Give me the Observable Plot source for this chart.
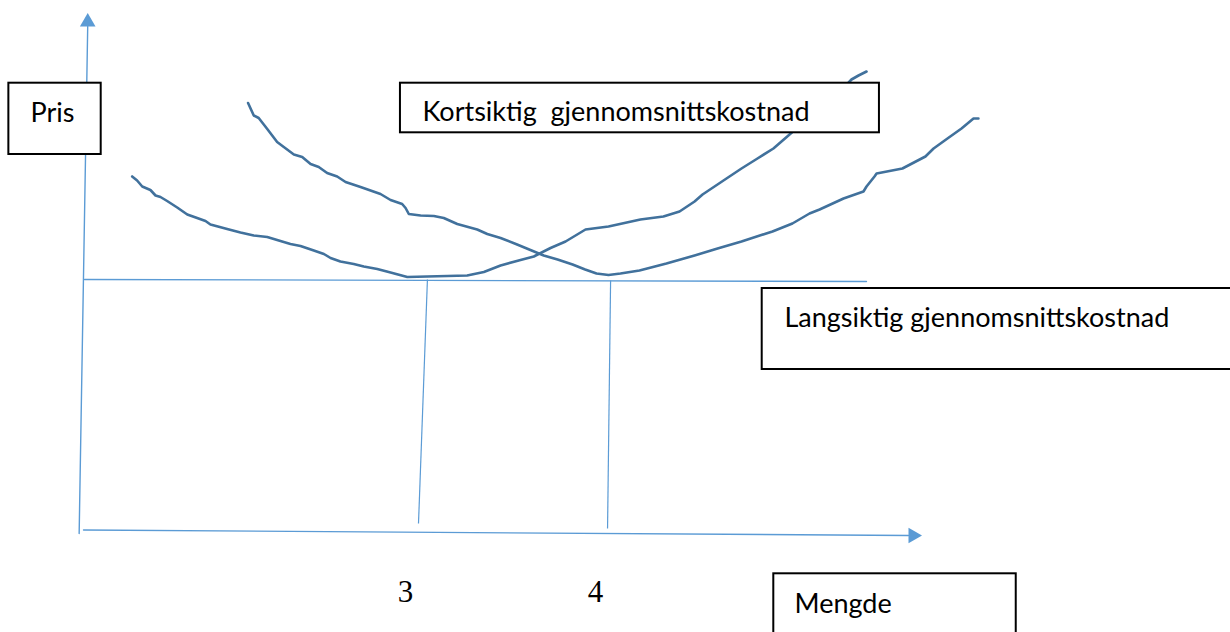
<!DOCTYPE html>
<html>
<head>
<meta charset="utf-8">
<script src="https://cdn.jsdelivr.net/npm/d3@7"></script>
<script src="https://cdn.jsdelivr.net/npm/@observablehq/plot@0.6"></script>
<style>
  html, body { margin: 0; padding: 0; background: #fff; }
  svg text { white-space: pre; }
</style>
</head>
<body>
<div id="chart"></div>
<script>
// ---- Data (Mengde on x, Pris on y) ----
// Left U-shaped average cost curve
const curve1Mengde = [1.493,1.519,1.546,1.589,1.616,1.642,1.677,1.730,1.783,1.835,1.879,1.905,1.993,2.063,2.133,2.204,2.256,2.326,2.379,2.449,2.502,2.537,2.589,2.659,2.712,2.783,2.853,2.941,3.046,3.151,3.256,3.344,3.432,3.537,3.607,3.695,3.774,3.879,4.000,4.168,4.289,4.374,4.453,4.495,4.621,4.700,4.784,4.868,4.953,5.037,5.116,5.200,5.279,5.316,5.358];
const curve1Pris   = [7.08,7.00,6.88,6.81,6.70,6.67,6.59,6.46,6.32,6.25,6.19,6.12,6.03,5.96,5.90,5.87,5.81,5.73,5.69,5.60,5.53,5.45,5.38,5.33,5.28,5.23,5.16,5.07,5.08,5.09,5.10,5.17,5.30,5.41,5.48,5.65,5.78,6.02,6.08,6.22,6.28,6.38,6.58,6.72,7.04,7.24,7.44,7.64,7.92,8.20,8.44,8.70,9.02,9.10,9.18];
// Right U-shaped average cost curve
const curve2Mengde = [2.103,2.133,2.159,2.204,2.256,2.291,2.344,2.388,2.432,2.475,2.519,2.572,2.616,2.695,2.800,2.853,2.914,2.932,2.949,3.011,3.081,3.133,3.204,3.309,3.362,3.432,3.519,3.589,3.659,3.732,3.811,3.877,3.937,4.000,4.063,4.163,4.305,4.453,4.574,4.700,4.863,4.968,5.058,5.111,5.237,5.342,5.358,5.400,5.411,5.547,5.668,5.711,5.784,5.858,5.921,5.947];
const curve2Pris   = [8.55,8.30,8.25,8.03,7.77,7.67,7.52,7.47,7.33,7.27,7.15,7.08,6.97,6.87,6.73,6.61,6.53,6.45,6.33,6.30,6.29,6.25,6.13,6.02,5.93,5.85,5.72,5.61,5.50,5.42,5.32,5.22,5.14,5.11,5.14,5.20,5.34,5.50,5.64,5.78,5.98,6.14,6.34,6.42,6.64,6.78,6.88,7.08,7.14,7.24,7.48,7.64,7.84,8.04,8.24,8.24];

// Axes (hand-drawn lines)
const yAxisMengde = [1.214, 1.259];
const yAxisPris   = [-0.06, 10.08];
const xAxisMengde = [1.237, 5.579];
const xAxisPris   = [0.01, -0.10];

// Long-run average cost (horizontal line)
const lacMengde = [1.242, 5.358];
const lacPris   = [5.02, 4.98];

// Drop lines to the quantities 3 and 4
const dropTopMengde    = [3.047, 4.011];
const dropTopPris      = [5.02, 5.00];
const dropBottomMengde = [3.000, 3.995];
const dropBottomPris   = [0.14, 0.04];

// Tick labels on the quantity axis
const tickValues = [3, 4];
const tickLabels = ["3", "4"];
const tickLabelPris = -1.42;

// Text boxes
const boxLabels = ["Pris", "Kortsiktig  gjennomsnittskostnad", "Langsiktig gjennomsnittskostnad", "Mengde"];
const boxMengde1 = [0.844, 2.905, 4.809, 4.870];
const boxMengde2 = [1.330, 5.426, 7.300, 6.146];
const boxPris1   = [8.946, 8.946, 4.84, -0.866];
const boxPris2   = [7.52, 7.954, 3.22, -2.40];
const labelMengde = [0.958, 3.021, 4.926, 4.979];
const labelPris   = [8.166, 8.186, 4.066, -1.646];

// ---- Build tables ----
const toPts = (xs, ys) => xs.map((x, i) => ({x, y: ys[i]}));
const curve1 = toPts(curve1Mengde, curve1Pris);
const curve2 = toPts(curve2Mengde, curve2Pris);
const yAxis = toPts(yAxisMengde, yAxisPris);
const xAxis = toPts(xAxisMengde, xAxisPris);
const lac = toPts(lacMengde, lacPris);
const drops = dropTopMengde.map((x, i) => ({x1: x, y1: dropTopPris[i], x2: dropBottomMengde[i], y2: dropBottomPris[i]}));
const boxes = boxLabels.map((t, i) => ({t, x1: boxMengde1[i], x2: boxMengde2[i], y1: boxPris1[i], y2: boxPris2[i], lx: labelMengde[i], ly: labelPris[i]}));
const ticks = tickValues.map((v, i) => ({v, label: tickLabels[i]}));

const axisColor = "#5B9BD5";
const curveColor = "#41719C";

const chart = Plot.plot({
  width: 1230,
  height: 632,
  x: {type: "linear", domain: [3, 4], range: [418, 608], axis: null},
  y: {type: "linear", domain: [0, 5], range: [530, 280], axis: null},
  style: {background: "#fff", fontFamily: "Lato, sans-serif"},
  marks: [
    Plot.line(yAxis, {x: "x", y: "y", stroke: axisColor, strokeWidth: 1.4}),
    Plot.line(xAxis, {x: "x", y: "y", stroke: axisColor, strokeWidth: 1.4}),
    Plot.line(lac, {x: "x", y: "y", stroke: axisColor, strokeWidth: 1.3}),
    Plot.link(drops, {x1: "x1", y1: "y1", x2: "x2", y2: "y2", stroke: axisColor, strokeWidth: 1.2}),
    Plot.line(curve1, {x: "x", y: "y", stroke: curveColor, strokeWidth: 2.6, strokeLinejoin: "round", strokeLinecap: "round"}),
    Plot.line(curve2, {x: "x", y: "y", stroke: curveColor, strokeWidth: 2.6, strokeLinejoin: "round", strokeLinecap: "round"}),
    Plot.dot([yAxis[yAxis.length - 1]], {x: "x", y: "y", symbol: "triangle", r: 5.8, fill: axisColor, stroke: "none", dy: -4.5}),
    Plot.dot([xAxis[xAxis.length - 1]], {x: "x", y: "y", symbol: "triangle", r: 5.8, fill: axisColor, stroke: "none", rotate: 90, dx: 4.5}),
    Plot.rect(boxes, {x1: "x1", x2: "x2", y1: "y1", y2: "y2", fill: "#fff", stroke: "#000", strokeWidth: 2}),
    Plot.text(boxes, {x: "lx", y: "ly", text: "t", textAnchor: "start", lineAnchor: "bottom", fontSize: 27, fill: "#000"}),
    Plot.text(ticks, {x: "v", y: () => tickLabelPris, text: "label", textAnchor: "middle", lineAnchor: "bottom", dx: -13, fontSize: 31, fontFamily: "Liberation Serif, serif", fill: "#000"})
  ]
});
document.getElementById("chart").appendChild(chart);
</script>
</body>
</html>
